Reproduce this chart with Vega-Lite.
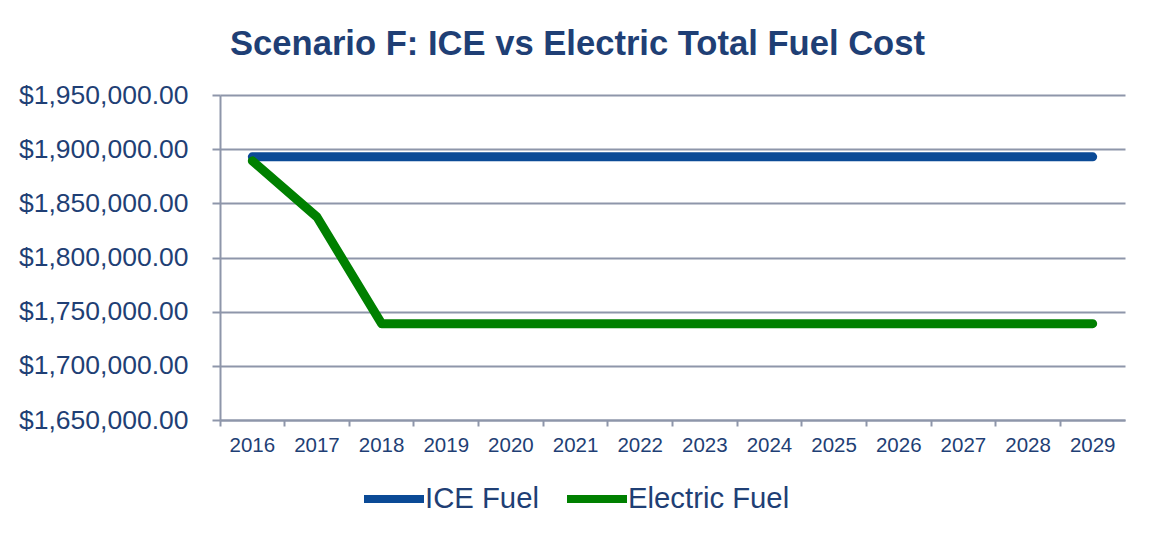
{
  "$schema": "https://vega.github.io/schema/vega-lite/v6.json",
  "width": 905,
  "height": 325,
  "autosize": {"type": "none"},
  "padding": {"left": 220, "top": 95, "right": 27, "bottom": 115},
  "background": "white",
  "config": {
    "font": "Liberation Sans",
    "view": {"stroke": null}
  },
  "title": {
    "text": "Scenario F: ICE vs Electric Total Fuel Cost",
    "fontSize": 34.6,
    "fontWeight": "bold",
    "color": "#1F3F75",
    "anchor": "middle",
    "dx": -95,
    "offset": 19
  },
  "data": {
    "values": [
      {"year": "2016", "series": "ICE Fuel", "cost": 1892900},
      {"year": "2017", "series": "ICE Fuel", "cost": 1892900},
      {"year": "2018", "series": "ICE Fuel", "cost": 1892900},
      {"year": "2019", "series": "ICE Fuel", "cost": 1892900},
      {"year": "2020", "series": "ICE Fuel", "cost": 1892900},
      {"year": "2021", "series": "ICE Fuel", "cost": 1892900},
      {"year": "2022", "series": "ICE Fuel", "cost": 1892900},
      {"year": "2023", "series": "ICE Fuel", "cost": 1892900},
      {"year": "2024", "series": "ICE Fuel", "cost": 1892900},
      {"year": "2025", "series": "ICE Fuel", "cost": 1892900},
      {"year": "2026", "series": "ICE Fuel", "cost": 1892900},
      {"year": "2027", "series": "ICE Fuel", "cost": 1892900},
      {"year": "2028", "series": "ICE Fuel", "cost": 1892900},
      {"year": "2029", "series": "ICE Fuel", "cost": 1892900},
      {"year": "2016", "series": "Electric Fuel", "cost": 1889200},
      {"year": "2017", "series": "Electric Fuel", "cost": 1837400},
      {"year": "2018", "series": "Electric Fuel", "cost": 1738900},
      {"year": "2019", "series": "Electric Fuel", "cost": 1738900},
      {"year": "2020", "series": "Electric Fuel", "cost": 1738900},
      {"year": "2021", "series": "Electric Fuel", "cost": 1738900},
      {"year": "2022", "series": "Electric Fuel", "cost": 1738900},
      {"year": "2023", "series": "Electric Fuel", "cost": 1738900},
      {"year": "2024", "series": "Electric Fuel", "cost": 1738900},
      {"year": "2025", "series": "Electric Fuel", "cost": 1738900},
      {"year": "2026", "series": "Electric Fuel", "cost": 1738900},
      {"year": "2027", "series": "Electric Fuel", "cost": 1738900},
      {"year": "2028", "series": "Electric Fuel", "cost": 1738900},
      {"year": "2029", "series": "Electric Fuel", "cost": 1738900}
    ]
  },
  "encoding": {
    "x": {
      "field": "year",
      "type": "ordinal",
      "scale": {"type": "band", "paddingInner": 0, "paddingOuter": 0},
      "axis": {
        "title": null,
        "labelAngle": 0,
        "labelFontSize": 20.5,
        "labelColor": "#1F3F75",
        "labelPadding": 9,
        "bandPosition": 0,
        "tickSize": 6,
        "tickColor": "#8E96AA",
        "tickWidth": 2,
        "domainColor": "#8E96AA",
        "domainWidth": 2,
        "grid": false
      }
    },
    "y": {
      "field": "cost",
      "type": "quantitative",
      "scale": {"domain": [1650000, 1950000], "nice": false, "zero": false},
      "axis": {
        "title": null,
        "values": [1650000, 1700000, 1750000, 1800000, 1850000, 1900000, 1950000],
        "format": "$,.2f",
        "labelFontSize": 26.5,
        "labelColor": "#1F3F75",
        "labelPadding": 24,
        "tickSize": 8,
        "tickColor": "#8E96AA",
        "tickWidth": 2,
        "domainColor": "#8E96AA",
        "domainWidth": 2,
        "gridColor": "#8E96AA",
        "gridWidth": 2,
        "gridOpacity": 1
      }
    },
    "color": {
      "field": "series",
      "type": "nominal",
      "scale": {"domain": ["ICE Fuel", "Electric Fuel"], "range": ["#0B4A96", "#008000"]},
      "legend": {
        "title": null,
        "orient": "none",
        "direction": "horizontal",
        "legendX": 140,
        "legendY": 370,
        "symbolType": "stroke",
        "symbolSize": 3600,
        "symbolStrokeWidth": 8,
        "labelFontSize": 29.3,
        "labelLimit": 400,
        "labelColor": "#1F3F75",
        "labelOffset": -3,
        "columnPadding": 12
      }
    }
  },
  "layer": [
    {
      "transform": [{"filter": "datum.series === 'ICE Fuel'"}],
      "mark": {"type": "line", "strokeWidth": 9, "strokeCap": "round", "strokeJoin": "round"}
    },
    {
      "transform": [{"filter": "datum.series === 'Electric Fuel'"}],
      "mark": {"type": "line", "strokeWidth": 9, "strokeCap": "round", "strokeJoin": "round"}
    }
  ]
}
